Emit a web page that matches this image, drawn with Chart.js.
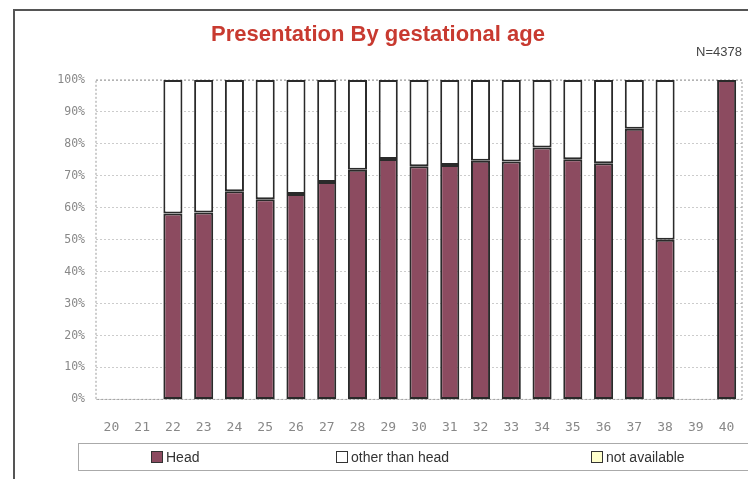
<!DOCTYPE html>
<html>
<head>
<meta charset="utf-8">
<script src="https://cdn.jsdelivr.net/npm/chart.js@4/dist/chart.umd.min.js"></script>
<style>
  body { margin:0; background:#fff; }
  #wrap { position:relative; width:748px; height:479px; overflow:hidden; }
  #frame { position:absolute; left:13px; top:9px; width:760px; height:500px; border:2px solid #555; }
  canvas { position:absolute; left:0; top:0; }
  #legend { position:absolute; left:78px; top:443px; width:700px; height:26px; border:1px solid #aaa;
            font-family:"Liberation Sans", Arial, sans-serif; font-size:14px; color:#333; }
  #legend span { position:absolute; top:5px; }
  #legend i { display:inline-block; width:10px; height:10px; border:1.5px solid #333; margin-right:3px; vertical-align:-1px; }
</style>
</head>
<body>
<div id="wrap">
  <div id="frame"></div>
  <canvas id="chart" width="748" height="479"></canvas>
  <div id="legend"></div>
</div>
<script>
const weeks = ['20','21','22','23','24','25','26','27','28','29','30','31','32','33','34','35','36','37','38','39','40'];
const head = [null,null,58.2,58.5,65.2,62.7,64.3,68.1,71.9,75.3,73.0,73.4,74.7,74.5,78.9,75.2,73.9,84.7,50.0,null,100];
const otherThanHead = [null,null,41.8,41.5,34.8,37.3,35.7,31.9,28.1,24.7,27.0,26.6,25.3,25.5,21.1,24.8,26.1,15.3,50.0,null,0];
const notAvailable = [null,null,0,0,0,0,0,0,0,0,0,0,0,0,0,0,0,0,0,null,0];

const seriesNames = ['Head','other than head','not available'];
const seriesColors = ['#8c4b60','#ffffff','#ffffcc'];

// dotted frame round the plot area
const frame = {
  id:'frame',
  beforeDatasetsDraw(chart){
    let a = chart.chartArea, c = chart.ctx;
    c.save();
    c.strokeStyle = '#999';
    c.lineWidth = 1;
    c.setLineDash([2,2]);
    c.strokeRect(a.left, a.top, a.right-a.left, a.bottom-a.top);
    c.restore();
  }
};

let ctx = document.getElementById('chart').getContext('2d');
let chart = new Chart(ctx, {
  type:'bar',
  data:{
    labels:weeks,
    datasets:[head,otherThanHead,notAvailable].map((d,i)=>({
      label:seriesNames[i],
      data:d,
      backgroundColor:seriesColors[i],
      borderColor:'#2a2a2a',
      borderWidth:i==2 ? 0 : 2, // empty series, no outline
      borderSkipped:false,
      barPercentage:0.62,
      categoryPercentage:1
    }))
  },
  options:{
    responsive:false,
    animation:false,
    layout:{ padding:{ left:14, right:6, top:10, bottom:32 } },
    plugins:{
      legend:{ display:false },
      tooltip:{ enabled:false },
      title:{
        display:true,
        text:'Presentation By gestational age',
        color:'#c83a30',
        font:{ family:'"Liberation Sans", Arial, sans-serif', size:22, weight:'bold', lineHeight:1.0 },
        padding:{ top:14, bottom:0 }
      },
      subtitle:{
        display:true,
        text:'N=4378',
        align:'end',
        color:'#444',
        font:{ family:'"Liberation Sans", Arial, sans-serif', size:13, lineHeight:1.0 },
        padding:{ top:0, bottom:21 }
      }
    },
    scales:{
      x:{
        stacked:true,
        grid:{ display:false },
        border:{ display:false },
        ticks:{ color:'#888', padding:12, font:{ family:'"DejaVu Sans Mono", monospace', size:13 } }
      },
      y:{
        stacked:true,
        min:0, max:100,
        afterFit(scale){ scale.width = 82; },
        grid:{ color:'#ccc', drawTicks:false },
        border:{ display:false, dash:[2,2] },
        ticks:{
          stepSize:10, padding:11, color:'#888',
          font:{ family:'"DejaVu Sans Mono", monospace', size:11.5 },
          callback:(v)=>v+'%'
        }
      }
    }
  },
  plugins:[frame]
});

// legend box under the chart
const legendX = [72, 257, 512];
let lg = document.getElementById('legend');
seriesNames.forEach((n,i)=>{
  let s = document.createElement('span');
  s.style.left = legendX[i]+'px';
  s.innerHTML = '<i style="background:'+seriesColors[i]+'"></i>'+n;
  lg.appendChild(s);
});
</script>
</body>
</html>
